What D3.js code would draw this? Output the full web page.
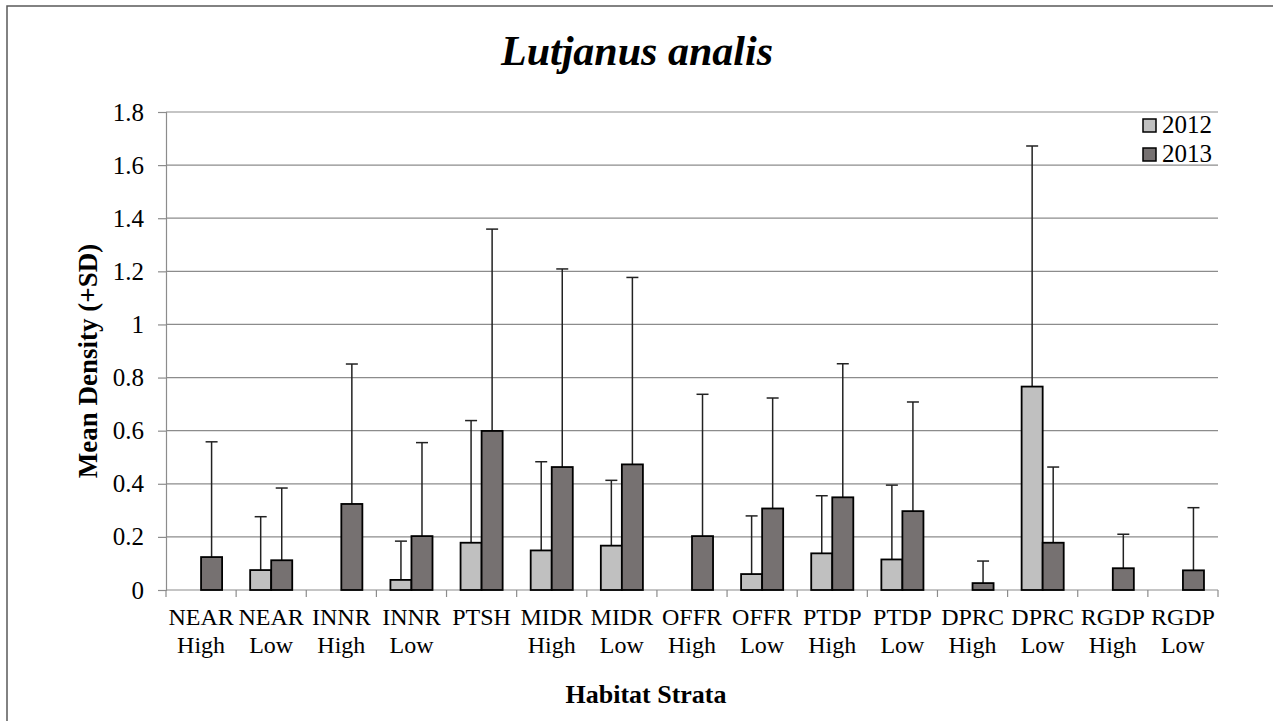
<!DOCTYPE html>
<html>
<head>
<meta charset="utf-8">
<script src="https://cdn.jsdelivr.net/npm/d3@7"></script>
<style>
  body { margin: 0; background: #fff; }
  svg { display: block; font-family: "Liberation Serif", "Times New Roman", serif; }
</style>
</head>
<body>
<div id="chart"></div>
<script>
// habitat strata, two label lines each
var strata = ["NEAR High", "NEAR Low", "INNR High", "INNR Low", "PTSH", "MIDR High", "MIDR Low",
  "OFFR High", "OFFR Low", "PTDP High", "PTDP Low", "DPRC High", "DPRC Low", "RGDP High", "RGDP Low"];
var years = ["2012", "2013"];

// mean density (null = no bar)
var mean2012 = [null, 0.075, null, 0.038, 0.178, 0.149, 0.167, null, 0.060, 0.138, 0.115, null, 0.766, null, null];
var mean2013 = [0.124, 0.112, 0.324, 0.203, 0.599, 0.463, 0.473, 0.203, 0.307, 0.349, 0.297, 0.026, 0.178, 0.082, 0.074];
// top of error bars (mean + SD)
var top2012 = [null, 0.276, null, 0.184, 0.638, 0.483, 0.413, null, 0.279, 0.355, 0.395, null, 1.672, null, null];
var top2013 = [0.558, 0.384, 0.851, 0.555, 1.359, 1.209, 1.177, 0.737, 0.723, 0.852, 0.708, 0.109, 0.463, 0.210, 0.310];

var yTicks = [0, 0.2, 0.4, 0.6, 0.8, 1, 1.2, 1.4, 1.6, 1.8];

var width = 1273, height = 721;
var margin = {left: 166, right: 55, top: 112, bottom: 131};
var colors = {"2012": "#c0c0c0", "2013": "#767171"};
var gridColor = "#8c8c8c";
var serif = "Liberation Serif, Times New Roman, serif";

var svg = d3.select("#chart").append("svg")
  .attr("width", width)
  .attr("height", height)
  .attr("font-family", serif);

// chart frame (cropped at right and bottom)
svg.append("rect")
  .attr("x", 7).attr("y", 6)
  .attr("width", 1400).attr("height", 900)
  .attr("fill", "none")
  .attr("stroke", "#595959")
  .attr("stroke-width", 1.5);

var x = d3.scaleBand()
  .domain(strata)
  .range([margin.left, width - margin.right]);

var xInner = d3.scaleBand()
  .domain(years)
  .range([x.bandwidth() * 0.2, x.bandwidth() * 0.8]);

var y = d3.scaleLinear()
  .domain([0, 1.8])
  .range([height - margin.bottom, margin.top]);

// gridlines
svg.append("g")
  .selectAll("line")
  .data(yTicks.slice(1))
  .enter().append("line")
  .attr("x1", margin.left).attr("x2", width - margin.right)
  .attr("y1", d => y(d)).attr("y2", d => y(d))
  .attr("stroke", gridColor)
  .attr("stroke-width", 1.2);

// y axis
var yAxis = svg.append("g")
  .attr("transform", `translate(${margin.left},0)`)
  .call(d3.axisLeft(y).tickValues(yTicks).tickSize(8).tickPadding(14).tickFormat(d3.format("")));
yAxis.attr("font-family", serif);
yAxis.select(".domain").attr("stroke", gridColor).attr("stroke-width", 1.2);
yAxis.selectAll(".tick line").attr("stroke", gridColor).attr("stroke-width", 1.2);
yAxis.selectAll("text")
  .attr("font-size", 25)
  .attr("fill", "#000");

// x axis line + boundary ticks
var xAxisG = svg.append("g");
xAxisG.append("line")
  .attr("x1", margin.left).attr("x2", width - margin.right)
  .attr("y1", y(0)).attr("y2", y(0))
  .attr("stroke", gridColor).attr("stroke-width", 1.2);
var boundaries = strata.map(d => x(d)).concat([x(strata[strata.length - 1]) + x.bandwidth()]);
xAxisG.selectAll(".bt")
  .data(boundaries)
  .enter().append("line")
  .attr("x1", d => d).attr("x2", d => d)
  .attr("y1", y(0)).attr("y2", y(0) + 7)
  .attr("stroke", gridColor).attr("stroke-width", 1.2);

// category labels
var labels = svg.append("g")
  .selectAll("text")
  .data(strata)
  .enter().append("text")
  .attr("text-anchor", "middle")
  .attr("font-size", 24)
  .attr("fill", "#000")
  .attr("transform", d => `translate(${x(d) + x.bandwidth() / 2},${y(0) + 35})`);
labels.selectAll("tspan")
  .data(d => d.split(" "))
  .enter().append("tspan")
  .attr("x", 0)
  .attr("dy", (d, i) => i === 0 ? 0 : 28)
  .text(d => d);

// bars
var rows = strata.map((s, i) => ({
  stratum: s,
  values: [
    {year: "2012", mean: mean2012[i], top: top2012[i]},
    {year: "2013", mean: mean2013[i], top: top2013[i]}
  ].filter(v => v.mean !== null)
}));

var groups = svg.append("g")
  .selectAll("g")
  .data(rows)
  .enter().append("g")
  .attr("transform", d => `translate(${x(d.stratum)},0)`);

// error bars
var err = groups.selectAll(".err")
  .data(d => d.values)
  .enter().append("g")
  .attr("class", "err");
err.append("line")
  .attr("x1", d => xInner(d.year) + xInner.bandwidth() / 2)
  .attr("x2", d => xInner(d.year) + xInner.bandwidth() / 2)
  .attr("y1", d => y(d.mean))
  .attr("y2", d => y(d.top))
  .attr("stroke", "#222")
  .attr("stroke-width", 1.5);
err.append("line")
  .attr("x1", d => xInner(d.year) + xInner.bandwidth() / 2 - 6)
  .attr("x2", d => xInner(d.year) + xInner.bandwidth() / 2 + 6)
  .attr("y1", d => y(d.top))
  .attr("y2", d => y(d.top))
  .attr("stroke", "#222")
  .attr("stroke-width", 1.5);

groups.selectAll("rect")
  .data(d => d.values)
  .enter().append("rect")
  .attr("x", d => xInner(d.year))
  .attr("width", xInner.bandwidth())
  .attr("y", d => y(d.mean))
  .attr("height", d => y(0) - y(d.mean))
  .attr("fill", d => colors[d.year])
  .attr("stroke", "#000")
  .attr("stroke-width", 1.8);

// title
svg.append("text")
  .attr("x", 637).attr("y", 65)
  .attr("text-anchor", "middle")
  .attr("font-size", 42)
  .attr("font-weight", "bold")
  .attr("font-style", "italic")
  .text("Lutjanus analis");

// axis titles
svg.append("text")
  .attr("x", 646).attr("y", 703)
  .attr("text-anchor", "middle")
  .attr("font-size", 26)
  .attr("font-weight", "bold")
  .text("Habitat Strata");

svg.append("text")
  .attr("transform", "translate(97,361) rotate(-90)")
  .attr("text-anchor", "middle")
  .attr("font-size", 27)
  .attr("font-weight", "bold")
  .text("Mean Density (+SD)");

// legend
var legend = svg.append("g")
  .selectAll("g")
  .data(years)
  .enter().append("g")
  .attr("transform", (d, i) => `translate(1143,${119 + i * 29})`);
legend.append("rect")
  .attr("width", 13).attr("height", 13)
  .attr("fill", d => colors[d])
  .attr("stroke", "#000")
  .attr("stroke-width", 1.5);
legend.append("text")
  .attr("x", 19).attr("y", 14)
  .attr("font-size", 25)
  .text(d => d);
</script>
</body>
</html>
